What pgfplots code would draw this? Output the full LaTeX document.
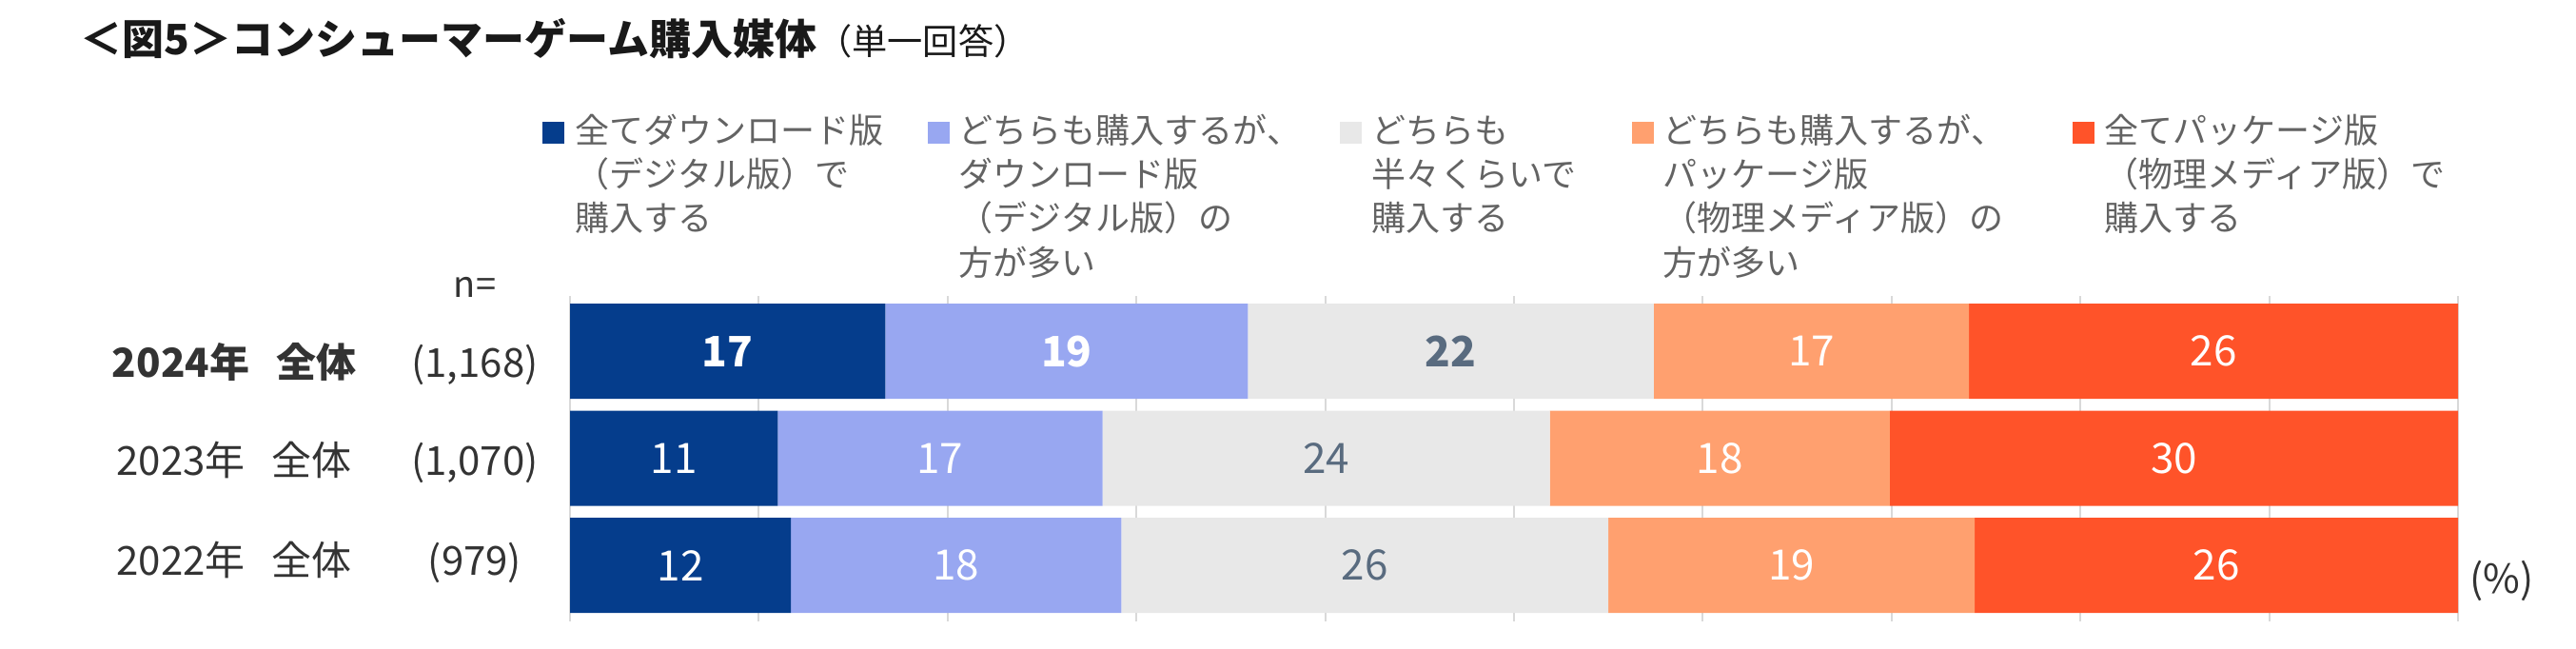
\documentclass[border=0pt]{standalone}
\usepackage{pgfplots}
\pgfplotsset{compat=1.18}
\usepackage{pgfplotstable}
\usepackage{fontspec}
\setmainfont{Noto Sans CJK JP}
\definecolor{cA}{HTML}{053D8C}
\definecolor{cB}{HTML}{98A7F1}
\definecolor{cC}{HTML}{E8E8E8}
\definecolor{cD}{HTML}{FFA06F}
\definecolor{cE}{HTML}{FF5329}
\definecolor{slate}{HTML}{596B7F}
\definecolor{legtxt}{HTML}{636363}
\definecolor{rowtxt}{HTML}{333333}
\definecolor{gridc}{HTML}{D9D9D9}
\newcommand\legfont{\fontsize{9}{11}\selectfont}
\newcommand\rowfont{\fontsize{10.5}{12}\selectfont}

% segment widths (percent), y: 2=2024, 1=2023, 0=2022
\pgfplotstableread{
y v1 v2 v3 v4 v5
2 16.7 19.2 21.5 16.7 25.9
1 11.0 17.2 23.7 18.0 30.1
0 11.7 17.5 25.8 19.4 25.6
}\bars
% label positions (segment centres) and printed values
\pgfplotstableread{
x y l
8.35 2 17
26.3 2 19
}\labWB
\pgfplotstableread{
x y l
46.65 2 22
}\labSB
\pgfplotstableread{
x y l
65.75 2 17
87.05 2 26
5.5 1 11
19.6 1 17
60.9 1 18
84.95 1 30
5.85 0 12
20.45 0 18
64.7 0 19
87.2 0 26
}\labWR
\pgfplotstableread{
x y l
40.05 1 24
42.1 0 26
}\labSR

\begin{document}
\begin{tikzpicture}
\pgfplotsset{base/.style={width=496pt,height=85.5pt,scale only axis,
  xmin=0,xmax=100,ymin=-0.524,ymax=2.516,
  at={(149.75pt,-163.25pt)},anchor=south west}}
\useasboundingbox (0,0) rectangle (676.75pt,-170.5pt);
\begin{axis}[base, xbar stacked, bar width=25pt,
  axis line style={draw=none},
  xtick={0,10,...,100}, xticklabels={}, ytick=\empty,
  xmajorgrids, major grid style={gridc, line width=0.5pt},
  major tick length=0pt]
\addplot[fill=cA, draw=none] table[x=v1,y=y]{\bars};
\addplot[fill=cB, draw=none] table[x=v2,y=y]{\bars};
\addplot[fill=cC, draw=none] table[x=v3,y=y]{\bars};
\addplot[fill=cD, draw=none] table[x=v4,y=y]{\bars};
\addplot[fill=cE, draw=none] table[x=v5,y=y]{\bars};
\end{axis}
\begin{axis}[base, hide axis, clip=false]
\addplot[only marks, mark=none, nodes near coords, point meta=explicit symbolic,
  every node near coord/.append style={anchor=center, inner sep=0pt, text=white, font=\fontsize{11}{13}\selectfont\bfseries}]
  table[x=x,y=y,meta=l]{\labWB};
\addplot[only marks, mark=none, nodes near coords, point meta=explicit symbolic,
  every node near coord/.append style={anchor=center, inner sep=0pt, text=slate, font=\fontsize{11}{13}\selectfont\bfseries}]
  table[x=x,y=y,meta=l]{\labSB};
\addplot[only marks, mark=none, nodes near coords, point meta=explicit symbolic,
  every node near coord/.append style={anchor=center, inner sep=0pt, text=white, font=\fontsize{11}{13}\selectfont}]
  table[x=x,y=y,meta=l]{\labWR};
\addplot[only marks, mark=none, nodes near coords, point meta=explicit symbolic,
  every node near coord/.append style={anchor=center, inner sep=0pt, text=slate, font=\fontsize{11}{13}\selectfont}]
  table[x=x,y=y,meta=l]{\labSR};
\end{axis}

\begin{scope}[x=0.25pt,y=-0.25pt, every node/.style={inner sep=0pt}]
% title
\node[anchor=base west, text=black!90] at (84,58)
  {{\bfseries\fontsize{11}{13}\selectfont ＜図5＞コンシューマーゲーム購入媒体}{\fontsize{9.3}{11}\selectfont（単一回答）}};
% legend keys
\fill[cA] (570,128) rectangle (593,151);
\fill[cB] (975,128) rectangle (998,151);
\fill[cC] (1408,128) rectangle (1431,151);
\fill[cD] (1715,128) rectangle (1738,151);
\fill[cE] (2178,128) rectangle (2201,151);
% legend texts
\begin{scope}[every node/.style={inner sep=0pt, anchor=base west, text=legtxt, font=\legfont}]
\node at (604,151) {全てダウンロード版};
\node at (604,197) {（デジタル版）で};
\node at (604,243) {購入する};
\node at (1007,151) {どちらも購入するが、};
\node at (1007,197) {ダウンロード版};
\node at (1007,243) {（デジタル版）の};
\node at (1007,290) {方が多い};
\node at (1441,151) {どちらも};
\node at (1441,197) {半々くらいで};
\node at (1441,243) {購入する};
\node at (1747,151) {どちらも購入するが、};
\node at (1747,197) {パッケージ版};
\node at (1747,243) {（物理メディア版）の};
\node at (1747,290) {方が多い};
\node at (2211,151) {全てパッケージ版};
\node at (2211,197) {（物理メディア版）で};
\node at (2211,243) {購入する};
\end{scope}
% row labels
\begin{scope}[every node/.style={inner sep=0pt, anchor=base, text=rowtxt, font=\rowfont}]
\node at (499,313) {\fontsize{9.5}{11}\selectfont n=};
\node at (246,397) {\bfseries 2024年\hspace{7pt}全体};
\node at (246,500) {2023年\hspace{7pt}全体};
\node at (246,605) {2022年\hspace{7pt}全体};
\node at (499,397) {(1,168)};
\node at (499,500) {(1,070)};
\node at (499,605) {(979)};
\node at (2629,624) {(\%)};
\end{scope}
\end{scope}
\end{tikzpicture}
\end{document}
